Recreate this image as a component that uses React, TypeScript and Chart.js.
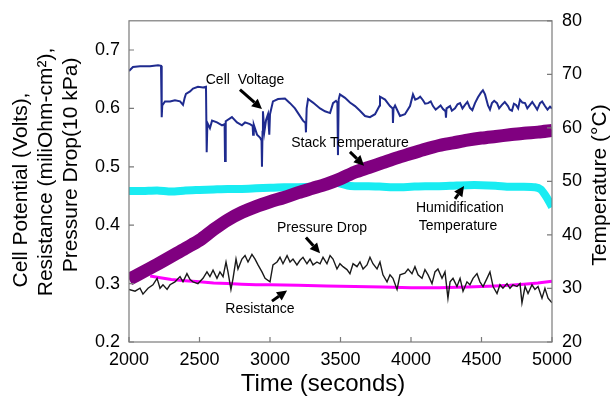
import React, { useEffect, useRef } from "react";
import { Chart, registerables } from "chart.js";

Chart.register(...registerables);

const FONT = "'Liberation Sans', Arial, Helvetica, sans-serif";

// Tick labels
const xTicks = [2000, 2500, 3000, 3500, 4000, 4500, 5000];
const leftTicks = [0.2, 0.3, 0.4, 0.5, 0.6, 0.7];
const rightTicks = [20, 30, 40, 50, 60, 70, 80];

// Cell voltage (V)
const voltageT = [2000,2028,2078,2149,2206,2227,2232,2236,2255,2291,2326,2362,2383,2395,2404,2433,2454,2489,2525,2546,2551,2556,2574,2589,2624,2660,2678,2681,2686,2730,2766,2801,2823,2858,2877,2880,2885,2908,2929,2940,2943,2947,2950,2960,2972,2986,2995,3000,3021,3057,3106,3142,3177,3199,3234,3252,3255,3260,3270,3305,3355,3390,3426,3447,3468,3478,3482,3487,3496,3532,3567,3603,3638,3674,3709,3745,3778,3780,3816,3851,3870,3872,3876,3887,3922,3957,3993,
  4014,4030,4050,4065,4085,4100,4121,4140,4156,4175,4191,4210,4227,4245,4248,4252,4277,4290,4312,4330,4348,4365,4383,4400,4418,4435,4454,4475,4496,4510,4525,4546,4560,4574,4590,4610,4625,4645,4665,4688,4700,4716,4730,4745,4760,4773,4790,4809,4825,4844,4860,4879,4895,4915,4930,4950,4968,4986,5000];
const voltageV = [.664,.671,.672,.672,.674,.673,.585,.605,.612,.612,.614,.612,.606,.618,.625,.629,.634,.637,.636,.637,.525,.575,.566,.579,.576,.571,.573,.510,.578,.585,.576,.571,.576,.573,.570,.555,.572,.555,.550,.545,.500,.560,.595,.560,.580,.590,.555,.590,.612,.616,.617,.609,.600,.592,.579,.575,.559,.600,.616,.610,.600,.595,.592,.609,.613,.610,.520,.615,.624,.618,.610,.604,.596,.587,.585,.590,.605,.620,.615,.604,.600,.575,.600,.605,.587,.590,.604,
  .624,.615,.617,.620,.614,.608,.609,.612,.604,.598,.601,.605,.599,.595,.584,.600,.604,.596,.600,.607,.609,.600,.606,.611,.601,.597,.609,.619,.627,.631,.624,.605,.598,.609,.613,.609,.600,.606,.611,.604,.598,.596,.608,.606,.600,.615,.610,.609,.600,.606,.611,.604,.598,.609,.612,.604,.598,.603,.600];

// Pressure drop (10 kPa)
const pressureT = [2000,2043,2078,2099,2135,2170,2199,2220,2241,2270,2291,2326,2362,2383,2411,2433,2454,2489,2525,2553,2574,2596,2624,2645,2667,2688,2702,2723,2738,2759,2773,2801,2823,2844,2872,2894,2915,2943,2965,3000,3021,3050,3071,3092,3121,3142,3163,3191,3213,3234,3262,3284,3305,3333,3355,3376,3404,3426,3447,3475,3496,3518,3546,3567,3589,3617,3638,3660,3688,3709,3730,3759,3780,3801,3830,3851,3872,3901,3922,3957,3979,4007,4028,4050,4078,4099,4121,4149,4170,4191,4220,4241,4262,4277,4298,4326,4348,4369,4397,4418,4440,4468,4489,4511,4539,4560,4582,4610,4631,4652,4681,4702,4723,4752,4773,4787,4809,4830,4858,4879,4901,4929,4950,4972,5000];
const pressureV = [.290,.287,.292,.282,.292,.298,.309,.292,.298,.290,.298,.303,.312,.303,.317,.307,.303,.300,.309,.320,.312,.323,.309,.320,.312,.337,.320,.290,.309,.342,.325,.342,.348,.337,.350,.342,.332,.320,.309,.303,.332,.337,.345,.334,.348,.337,.342,.332,.340,.345,.334,.342,.332,.337,.334,.345,.334,.348,.342,.325,.334,.329,.324,.317,.334,.329,.337,.325,.332,.345,.334,.325,.337,.315,.303,.315,.309,.290,.315,.318,.325,.317,.329,.315,.309,.324,.315,.300,.320,.325,.309,.320,.275,.303,.309,.295,.309,.287,.303,.298,.309,.317,.303,.295,.309,.320,.295,.283,.298,.292,.300,.292,.298,.295,.300,.267,.295,.283,.298,.290,.295,.275,.292,.275,.267];

// Resistance (miliOhm-cm2)
const resistanceT = [2150,2200,2300,2400,2500,2600,2700,2800,2900,3000,3200,3400,3600,3800,4000,4200,4400,4500,4600,4700,4800,4900,5000];
const resistanceV = [.313,.311,.307,.305,.303,.301,.300,.299,.298,.298,.297,.296,.295,.294,.293,.293,.294,.295,.296,.297,.299,.301,.304];

// Stack temperature (°C)
const stackT = [2000,2200,2400,2500,2600,2700,2800,2900,3000,3100,3200,3300,3400,3500,3600,3700,3800,3900,4000,4100,4200,4300,4400,4500,4600,4700,4800,4900,5000];
const stackV = [31.7,34.5,37.5,39.0,41.0,42.8,44.2,45.3,46.2,47.0,47.9,48.7,49.5,50.5,51.7,52.6,53.5,54.4,55.2,56.0,56.7,57.2,57.7,58.1,58.4,58.7,59.0,59.2,59.5];

// Humidification temperature (°C)
const humidT = [2000,2100,2200,2300,2400,2500,2600,2700,2800,2900,3000,3100,3200,3300,3400,3450,3500,3550,3600,3700,3800,3900,4000,4100,4200,4300,4400,4500,4600,4700,4800,4880,4920,4950,4980,5000];
const humidV = [48.2,48.2,48.3,48.1,48.3,48.4,48.5,48.6,48.6,48.7,48.8,48.9,48.9,49.0,49.2,49.8,49.6,49.2,49.1,49.1,49.0,48.9,49.0,49.1,49.1,49.2,49.3,49.3,49.2,49.0,49.0,48.9,48.5,47.5,46.2,45.2];

const zip = (t: number[], v: number[]) => t.map((x, i) => ({ x, y: v[i] }));

function arrow(ctx: CanvasRenderingContext2D, x1: number, y1: number, x2: number, y2: number) {
  const ang = Math.atan2(y2 - y1, x2 - x1);
  const head = 10;
  const hw = 5;
  const bx = x2 - head * Math.cos(ang);
  const by = y2 - head * Math.sin(ang);
  ctx.beginPath();
  ctx.moveTo(x1, y1);
  ctx.lineTo(bx, by);
  ctx.lineWidth = 3;
  ctx.strokeStyle = "#000";
  ctx.stroke();
  ctx.beginPath();
  ctx.moveTo(x2, y2);
  ctx.lineTo(bx + hw * Math.sin(ang), by - hw * Math.cos(ang));
  ctx.lineTo(bx - hw * Math.sin(ang), by + hw * Math.cos(ang));
  ctx.closePath();
  ctx.fillStyle = "#000";
  ctx.fill();
}

const decorPlugin = {
  id: "decor",
  afterDatasetsDraw(chart: any) {
    const { ctx, scales } = chart;
    const X = (t: number) => scales.x.getPixelForValue(t);
    const Y = (v: number) => scales.y.getPixelForValue(v);
    ctx.save();
    ctx.fillStyle = "#000";
    ctx.font = `14px ${FONT}`;
    ctx.textAlign = "center";
    ctx.textBaseline = "middle";
    ctx.fillText("Cell  Voltage", X(2823), Y(0.649));
    ctx.fillText("Stack Temperature", X(3567), Y(0.541));
    ctx.fillText("Humidification", X(4347), Y(0.429));
    ctx.fillText("Temperature", X(4333), Y(0.399));
    ctx.fillText("Pressure Drop", X(3369), Y(0.395));
    ctx.fillText("Resistance", X(2929), Y(0.257));
    arrow(ctx, X(2787), Y(0.632), X(2943), Y(0.599));
    arrow(ctx, X(3567), Y(0.5255), X(3667), Y(0.502));
    arrow(ctx, X(4312), Y(0.445), X(4376), Y(0.467));
    arrow(ctx, X(3255), Y(0.379), X(3355), Y(0.352));
    arrow(ctx, X(3014), Y(0.270), X(3121), Y(0.288));
    ctx.restore();
  },
  afterDraw(chart: any) {
    const { ctx, chartArea: a, scales } = chart;
    ctx.save();
    ctx.strokeStyle = "#7a7a7a";
    ctx.lineWidth = 1.2;
    ctx.strokeRect(a.left, a.top, a.right - a.left, a.bottom - a.top);
    ctx.beginPath();
    const tl = 5;
    xTicks.forEach((t) => {
      const px = scales.x.getPixelForValue(t);
      ctx.moveTo(px, a.bottom);
      ctx.lineTo(px, a.bottom - tl);
    });
    leftTicks.forEach((v) => {
      const py = scales.y.getPixelForValue(v);
      ctx.moveTo(a.left, py);
      ctx.lineTo(a.left + tl, py);
    });
    rightTicks.forEach((v) => {
      const py = scales.y2.getPixelForValue(v);
      ctx.moveTo(a.right, py);
      ctx.lineTo(a.right - tl, py);
    });
    ctx.stroke();

    // Axis titles
    ctx.fillStyle = "#000";
    ctx.textAlign = "center";
    ctx.textBaseline = "middle";
    ctx.font = `24px ${FONT}`;
    ctx.fillText("Time (seconds)", 323, 384);

    ctx.font = `21px ${FONT}`;
    const rot = (text: string, x: number, y: number) => {
      ctx.save();
      ctx.translate(x, y);
      ctx.rotate(-Math.PI / 2);
      ctx.fillText(text, 0, 0);
      ctx.restore();
    };
    rot("Cell Potential (Volts),", 21, 190);
    rot("Resistance (miliOhm-cm\u00B2),", 46, 172);
    rot("Pressure Drop(10 kPa)", 71, 165);
    rot("Temperature (\u00B0C)", 600, 185);
    ctx.restore();
  },
};

export default function App() {
  const ref = useRef<HTMLCanvasElement | null>(null);
  useEffect(() => {
    if (!ref.current) return;
    const tickFont = { size: 18, family: FONT };
    const chart = new Chart(ref.current, {
      type: "line",
      data: {
        datasets: [
          {
            label: "Cell Voltage",
            data: zip(voltageT, voltageV),
            yAxisID: "y",
            borderColor: "#1f2b8f",
            borderWidth: 2,
            pointRadius: 0,
            tension: 0,
          },
          {
            label: "Pressure Drop",
            data: zip(pressureT, pressureV),
            yAxisID: "y",
            borderColor: "#1a1a1a",
            borderWidth: 1.4,
            pointRadius: 0,
            tension: 0,
          },
          {
            label: "Resistance",
            data: zip(resistanceT, resistanceV),
            yAxisID: "y",
            borderColor: "#ff00ff",
            borderWidth: 3,
            pointRadius: 0,
            tension: 0,
          },
          {
            label: "Stack Temperature",
            data: zip(stackT, stackV),
            yAxisID: "y2",
            borderColor: "#800080",
            borderWidth: 13,
            pointRadius: 0,
            tension: 0.3,
            borderCapStyle: "butt",
          },
          {
            label: "Humidification Temperature",
            data: zip(humidT, humidV),
            yAxisID: "y2",
            borderColor: "#19ecf2",
            borderWidth: 8,
            pointRadius: 0,
            tension: 0.2,
            borderCapStyle: "butt",
          },
        ],
      },
      options: {
        responsive: false,
        animation: false,
        events: [],
        layout: { padding: { top: 13, left: 0, right: 0, bottom: 0 } },
        plugins: { legend: { display: false }, tooltip: { enabled: false } },
        scales: {
          x: {
            type: "linear",
            min: 2000,
            max: 5000,
            afterFit: (s: any) => { s.height = 65; },
            afterBuildTicks: (s: any) => { s.ticks = xTicks.map((value) => ({ value })); },
            ticks: { font: tickFont, color: "#000", padding: 7, maxRotation: 0, callback: (v: any) => String(v) },
            grid: { display: false, drawTicks: false },
            border: { display: false },
          },
          y: {
            type: "linear",
            position: "left",
            min: 0.2,
            max: 0.75,
            afterFit: (s: any) => { s.width = 129; },
            afterBuildTicks: (s: any) => { s.ticks = leftTicks.map((value) => ({ value })); },
            ticks: { font: tickFont, color: "#000", padding: 9, callback: (v: any) => Number(v).toFixed(1) },
            grid: { display: false, drawTicks: false },
            border: { display: false },
          },
          y2: {
            type: "linear",
            position: "right",
            min: 20,
            max: 80,
            afterFit: (s: any) => { s.width = 61; },
            afterBuildTicks: (s: any) => { s.ticks = rightTicks.map((value) => ({ value })); },
            ticks: { font: tickFont, color: "#000", padding: 10, callback: (v: any) => String(v) },
            grid: { display: false, drawTicks: false },
            border: { display: false },
          },
        },
      },
      plugins: [decorPlugin],
    } as any);
    return () => chart.destroy();
  }, []);
  return (
    <div style={{ position: "absolute", left: 0, top: 0, width: 613, height: 407, background: "#fff" }}>
      <canvas ref={ref} width={613} height={407} style={{ display: "block" }} />
    </div>
  );
}
